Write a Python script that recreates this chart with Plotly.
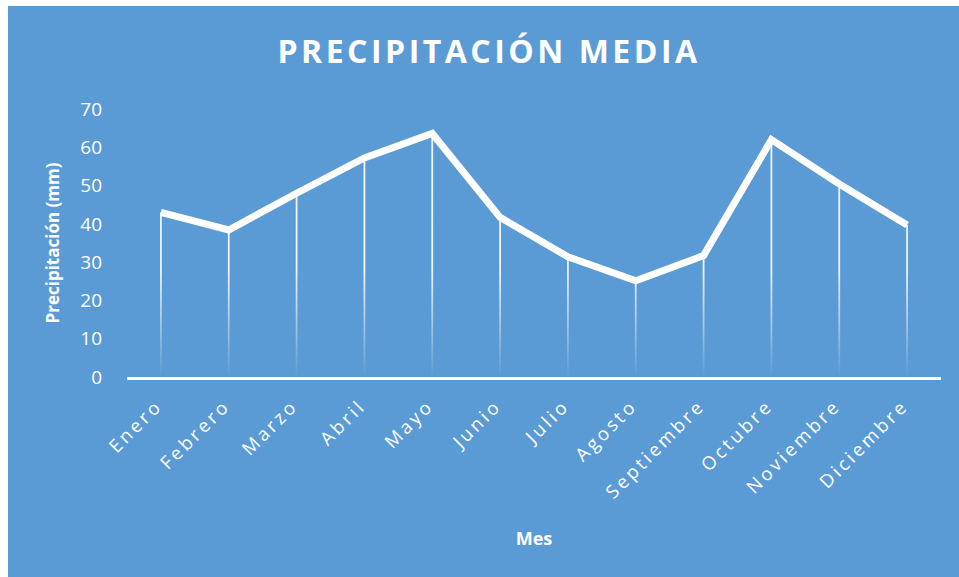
import plotly.graph_objects as go

months = ["Enero", "Febrero", "Marzo", "Abril", "Mayo", "Junio", "Julio",
          "Agosto", "Septiembre", "Octubre", "Noviembre", "Diciembre"]
precip = [43, 38.4, 48, 57.2, 63.6, 41.7, 31.4, 25.1, 31.7, 62, 50.4, 39.7]
y_ticks = [0, 10, 20, 30, 40, 50, 60, 70]

W, H = 959, 577
ML, MR, MT, MB = 127, 18, 109, 200
pw, ph = W - ML - MR, H - MT - MB

BLUE = "#5B9BD5"
FONT = "Open Sans"

idx = list(range(len(months)))

# drop lines as thin rectangles with vertical gradient fill
half = 0.013
dx, dy = [], []
for i, v in zip(idx, precip):
    dx += [i - half, i + half, i + half, i - half, i - half, None]
    dy += [0, 0, v, v, 0, None]

fig = go.Figure()
fig.add_trace(go.Scatter(
    x=dx, y=dy, mode="lines", fill="toself", line=dict(width=0),
    fillgradient=dict(type="vertical",
                      colorscale=[[0, "rgba(255,255,255,0)"], [1, "rgba(255,255,255,0.9)"]],
                      start=0, stop=28),
    hoverinfo="skip", showlegend=False))
fig.add_trace(go.Scatter(
    x=idx, y=precip, mode="lines", line=dict(color="white", width=7),
    showlegend=False))

# blue panel covering figure except small white margins
fig.add_shape(type="rect", xref="paper", yref="paper", layer="below",
              x0=(8 - ML) / pw, x1=(W + 5 - ML) / pw,
              y0=(MT + ph - H - 5) / ph, y1=(MT + ph - 6) / ph,
              fillcolor=BLUE, line=dict(width=0))

fig.update_layout(
    width=W, height=H,
    margin=dict(l=ML, r=MR, t=MT, b=MB),
    paper_bgcolor="white", plot_bgcolor="rgba(0,0,0,0)",
    title=dict(text="<b>PRECIPITACIÓN MEDIA</b>", x=489 / W, xanchor="center",
               y=1 - 52 / H, yanchor="middle",
               font=dict(family=FONT, size=32, color="white")),
    font=dict(family=FONT, color="white"),
    xaxis=dict(range=[-0.5, 11.5], tickvals=idx, ticktext=months, tickangle=-45,
               showgrid=False, zeroline=False, showline=True, linecolor="white",
               linewidth=2.5, ticks="", tickfont=dict(size=18.5, color="white"),
               ticklabelstandoff=8, ticklabelshift=-4,
               title=dict(text="<b>Mes</b>", font=dict(size=18, color="white"),
                          standoff=52)),
    yaxis=dict(range=[0, 70], tickvals=y_ticks, showgrid=False, zeroline=False,
               showline=False, ticks="", tickfont=dict(size=19, color="white"),
               ticklabelstandoff=24,
               title=dict(text="<b>Precipitación (mm)</b>",
                          font=dict(size=17, color="white"), standoff=16)),
)

css = ("body{margin:0}"
       ".xtick text{letter-spacing:3.1px}"
       ".gtitle{letter-spacing:3.5px}")
post = ("var s=document.createElement('style');s.textContent='" + css +
        "';document.head.appendChild(s);")

fig.write_html("out.html", post_script=post, config={"displayModeBar": False})
